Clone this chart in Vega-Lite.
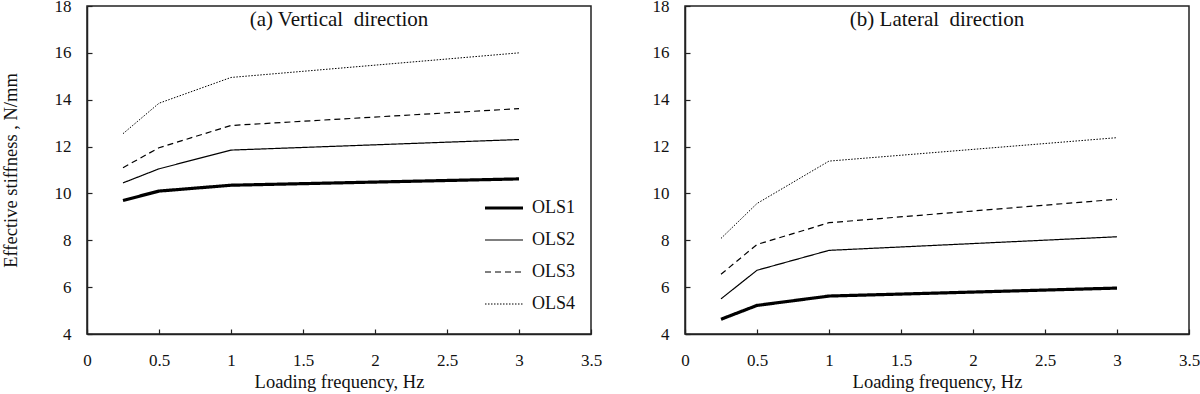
{
  "$schema": "https://vega.github.io/schema/vega-lite/v6.json",
  "padding": {"left": 0, "top": -4, "right": 0, "bottom": 2},
  "config": {
    "font": "Liberation Serif",
    "view": {"stroke": "#222", "strokeWidth": 1.5},
    "axis": {"grid": false, "domainColor": "#222", "domainWidth": 1.5, "tickColor": "#222", "tickSize": -5, "tickWidth": 1.2,
      "labelFont": "Liberation Serif", "labelFontSize": 17, "labelColor": "#111", "labelPadding": 21,
      "titleFont": "Liberation Serif", "titleFontSize": 18.5, "titleFontWeight": "normal", "titleColor": "#111"},
    "legend": {"orient": "none", "legendX": 396, "legendY": 186, "symbolType": "stroke", "symbolSize": 1444, "symbolStrokeColor": "black",
      "labelFont": "Liberation Serif", "labelFontSize": 18, "labelColor": "#111", "labelOffset": 7, "clipHeight": 32, "rowPadding": 0, "padding": 0},
    "title": {"font": "Liberation Serif", "fontSize": 21, "fontWeight": "normal", "color": "#111", "frame": "group", "offset": -33}
  },
  "data": {"values": [
    {"panel": "a", "series": "OLS1", "freq": 0.25, "stiffness": 9.7},
    {"panel": "a", "series": "OLS1", "freq": 0.5, "stiffness": 10.1},
    {"panel": "a", "series": "OLS1", "freq": 1, "stiffness": 10.35},
    {"panel": "a", "series": "OLS1", "freq": 3, "stiffness": 10.62},
    {"panel": "a", "series": "OLS2", "freq": 0.25, "stiffness": 10.45},
    {"panel": "a", "series": "OLS2", "freq": 0.5, "stiffness": 11.05},
    {"panel": "a", "series": "OLS2", "freq": 1, "stiffness": 11.85},
    {"panel": "a", "series": "OLS2", "freq": 3, "stiffness": 12.3},
    {"panel": "a", "series": "OLS3", "freq": 0.25, "stiffness": 11.1},
    {"panel": "a", "series": "OLS3", "freq": 0.5, "stiffness": 11.95},
    {"panel": "a", "series": "OLS3", "freq": 1, "stiffness": 12.9},
    {"panel": "a", "series": "OLS3", "freq": 3, "stiffness": 13.62},
    {"panel": "a", "series": "OLS4", "freq": 0.25, "stiffness": 12.55},
    {"panel": "a", "series": "OLS4", "freq": 0.5, "stiffness": 13.85},
    {"panel": "a", "series": "OLS4", "freq": 1, "stiffness": 14.95},
    {"panel": "a", "series": "OLS4", "freq": 3, "stiffness": 16.0},
    {"panel": "b", "series": "OLS1", "freq": 0.25, "stiffness": 4.63},
    {"panel": "b", "series": "OLS1", "freq": 0.5, "stiffness": 5.22},
    {"panel": "b", "series": "OLS1", "freq": 1, "stiffness": 5.62},
    {"panel": "b", "series": "OLS1", "freq": 3, "stiffness": 5.96},
    {"panel": "b", "series": "OLS2", "freq": 0.25, "stiffness": 5.5},
    {"panel": "b", "series": "OLS2", "freq": 0.5, "stiffness": 6.72},
    {"panel": "b", "series": "OLS2", "freq": 1, "stiffness": 7.57},
    {"panel": "b", "series": "OLS2", "freq": 3, "stiffness": 8.15},
    {"panel": "b", "series": "OLS3", "freq": 0.25, "stiffness": 6.55},
    {"panel": "b", "series": "OLS3", "freq": 0.5, "stiffness": 7.82},
    {"panel": "b", "series": "OLS3", "freq": 1, "stiffness": 8.75},
    {"panel": "b", "series": "OLS3", "freq": 3, "stiffness": 9.75},
    {"panel": "b", "series": "OLS4", "freq": 0.25, "stiffness": 8.08},
    {"panel": "b", "series": "OLS4", "freq": 0.5, "stiffness": 9.57},
    {"panel": "b", "series": "OLS4", "freq": 1, "stiffness": 11.38},
    {"panel": "b", "series": "OLS4", "freq": 3, "stiffness": 12.38}
  ]},
  "spacing": 48,
  "resolve": {"legend": {"strokeDash": "independent", "strokeWidth": "independent"}},
  "hconcat": [
    {
      "width": 504, "height": 328,
      "title": {"text": "(a) Vertical\u00a0 direction"},
      "transform": [{"filter": "datum.panel == 'a'"}],
      "mark": {"type": "line", "color": "black", "strokeCap": "butt"},
      "encoding": {
        "x": {"field": "freq", "type": "quantitative", "scale": {"domain": [0, 3.5], "nice": false, "zero": false},
          "axis": {"values": [0, 0.5, 1, 1.5, 2, 2.5, 3, 3.5], "format": "~g", "title": "Loading frequency, Hz", "labelFlush": false, "labelPadding": 23, "titlePadding": 4}},
        "y": {"field": "stiffness", "type": "quantitative", "scale": {"domain": [4, 18], "nice": false, "zero": false},
          "axis": {"values": [4, 6, 8, 10, 12, 14, 16, 18], "title": "Effective stiffness , N/mm", "titlePadding": 33.5}},
        "strokeDash": {"field": "series", "type": "nominal", "title": null,
          "scale": {"type": "ordinal", "domain": ["OLS1", "OLS2", "OLS3", "OLS4"], "range": [[1, 0], [1, 0], [6, 4], [1.5, 1.5]]}},
        "strokeWidth": {"field": "series", "type": "nominal", "title": null,
          "scale": {"type": "ordinal", "domain": ["OLS1", "OLS2", "OLS3", "OLS4"], "range": [3.2, 1.2, 1.2, 1]}}
      }
    },
    {
      "width": 504, "height": 328,
      "title": {"text": "(b) Lateral\u00a0 direction"},
      "transform": [{"filter": "datum.panel == 'b'"}],
      "mark": {"type": "line", "color": "black", "strokeCap": "butt"},
      "encoding": {
        "x": {"field": "freq", "type": "quantitative", "scale": {"domain": [0, 3.5], "nice": false, "zero": false},
          "axis": {"values": [0, 0.5, 1, 1.5, 2, 2.5, 3, 3.5], "format": "~g", "title": "Loading frequency, Hz", "labelFlush": false, "labelPadding": 23, "titlePadding": 4}},
        "y": {"field": "stiffness", "type": "quantitative", "scale": {"domain": [4, 18], "nice": false, "zero": false},
          "axis": {"values": [4, 6, 8, 10, 12, 14, 16, 18], "title": null}},
        "strokeDash": {"field": "series", "type": "nominal", "legend": null,
          "scale": {"type": "ordinal", "domain": ["OLS1", "OLS2", "OLS3", "OLS4"], "range": [[1, 0], [1, 0], [6, 4], [1.5, 1.5]]}},
        "strokeWidth": {"field": "series", "type": "nominal", "legend": null,
          "scale": {"type": "ordinal", "domain": ["OLS1", "OLS2", "OLS3", "OLS4"], "range": [3.2, 1.2, 1.2, 1]}}
      }
    }
  ]
}
